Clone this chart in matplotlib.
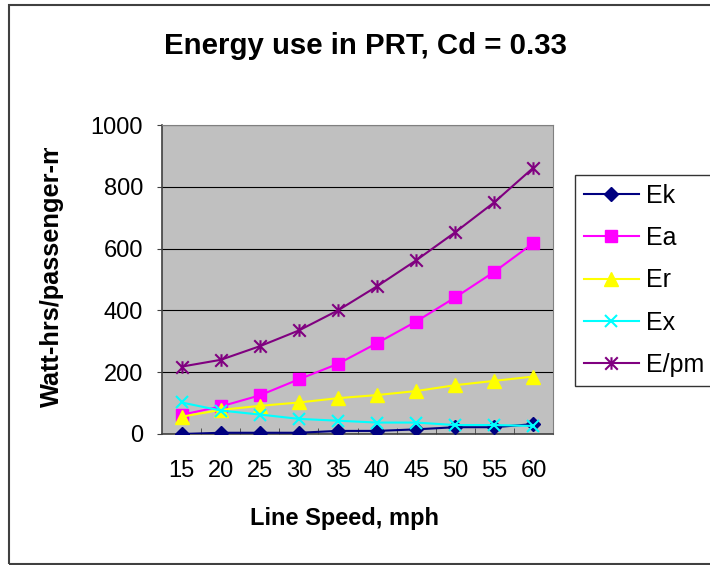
import matplotlib.pyplot as plt
from matplotlib.path import Path
from matplotlib.patches import Rectangle
from matplotlib.transforms import Bbox, TransformedBbox

# speeds along the x axis
speeds = ['15', '20', '25', '30', '35', '40', '45', '50', '55', '60']

# energy components, Watt-hrs per passenger-mile
ek = [0, 4, 4, 4, 10, 10, 15, 22, 22, 32]
ea = [62, 89, 125, 177, 227, 294, 364, 442, 525, 618]
er = [56, 78, 91, 102, 116, 126, 139, 158, 172, 186]
ex = [102, 76, 63, 49, 43, 37, 37, 29, 29, 26]
epm = [218, 240, 284, 335, 400, 478, 562, 653, 750, 862]

plt.rcParams['font.family'] = ['Liberation Sans', 'DejaVu Sans']

W, H = 710, 565
fig = plt.figure(figsize=(7.1, 5.65), dpi=100)
ax = fig.add_axes([162 / W, 131 / H, 391 / W, 309 / H])
ax.set_facecolor('#C0C0C0')

# asterisk like excel: vertical bar plus an x
star = Path([(0, -1), (0, 1), (-1, -1), (1, 1), (-1, 1), (1, -1)],
            [Path.MOVETO, Path.LINETO, Path.MOVETO, Path.LINETO,
             Path.MOVETO, Path.LINETO])

x = list(range(len(speeds)))
ax.plot(x, ek, color='#000080', marker='D', ms=7, lw=1.5, label='Ek', zorder=3)
ax.plot(x, ea, color='#FF00FF', marker='s', ms=8.5, lw=1.5, label='Ea', zorder=3)
ax.plot(x, er, color='#FFFF00', marker='^', ms=10, lw=1.5, label='Er', zorder=3)
ax.plot(x, ex, color='#00FFFF', marker='x', ms=9, mew=1.5, lw=1.5, label='Ex', zorder=4)
ax.plot(x, epm, color='#800080', marker=star, ms=9, mew=1.5, lw=1.5, label='E/pm', zorder=3)

ax.set_xlim(-0.5, 9.5)
ax.set_ylim(0, 1000)
ax.set_yticks(range(0, 1001, 200))
ax.yaxis.grid(True, color='black', lw=0.8)
ax.set_axisbelow(True)

ax.set_xticks(x)
ax.set_xticklabels(speeds)
ax.set_xticks([i + 0.5 for i in range(9)], minor=True)
ax.tick_params(axis='x', which='major', length=0, labelsize=17, pad=19)
ax.tick_params(axis='x', which='minor', direction='in', length=4, color='#404040')
ax.tick_params(axis='y', length=3.5, labelsize=17, color='#404040', pad=10)

for s in ['top', 'right']:
    ax.spines[s].set_color('#808080')
for s in ['left', 'bottom']:
    ax.spines[s].set_color('#404040')
    ax.spines[s].set_linewidth(1.2)

fig.text(345 / W, 1 - 525 / H, 'Line Speed, mph', ha='center', va='baseline',
         fontsize=17, fontweight='bold')
yl = fig.text(52 / W, 1 - 407 / H, 'Watt-hrs/passenger-mile', rotation=90,
              ha='center', va='bottom', fontsize=18.3, fontweight='bold')
yl.set_clip_box(TransformedBbox(Bbox([[0, 0], [1, 1 - 148 / H]]), fig.transFigure))
yl.set_clip_on(True)

fig.text(365 / W, 1 - 54 / H, 'Energy use in PRT, Cd = 0.33',
         ha='center', va='baseline', fontsize=21.2, fontweight='bold')

leg = ax.legend(loc='upper left', bbox_to_anchor=(575 / W, 1 - 175 / H),
                bbox_transform=fig.transFigure, fontsize=18, frameon=True,
                fancybox=False, edgecolor='black', handlelength=2.2,
                labelspacing=0.73, borderpad=0.35, handletextpad=0.3,
                borderaxespad=0)
leg.get_frame().set_linewidth(1.0)

# outer chart border
fig.patches.append(Rectangle((9 / W, 1 / H), 1, 559 / H,
                             transform=fig.transFigure, fill=False,
                             edgecolor='#404040', lw=1.5))

fig.savefig('out.png', dpi=100)
